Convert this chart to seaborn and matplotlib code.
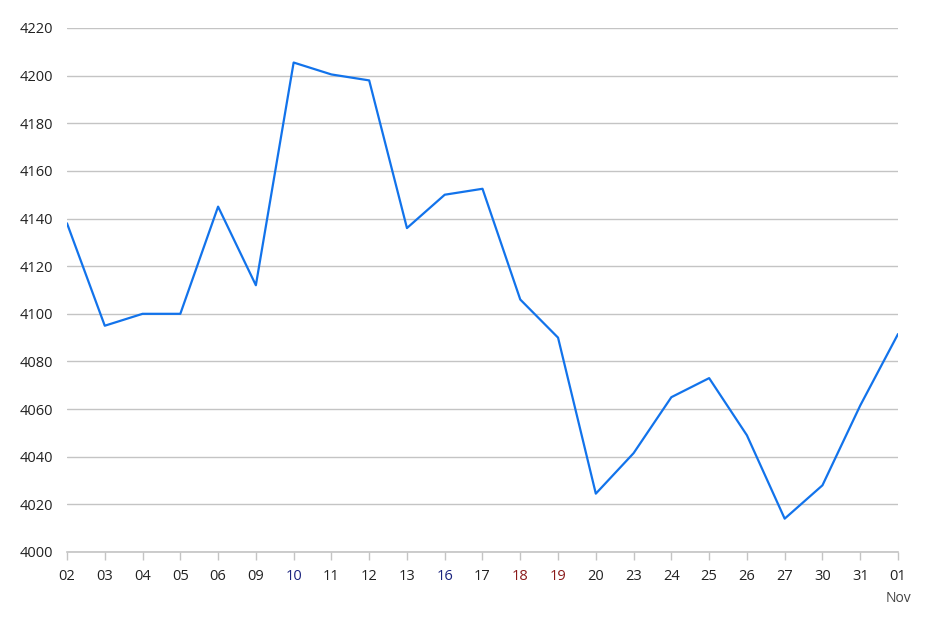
import matplotlib
matplotlib.use("Agg")
import matplotlib.pyplot as plt
import seaborn as sns
import numpy as np

# dates shown on the x axis (business days, ending 01 Nov)
day_labels = ["02", "03", "04", "05", "06", "09", "10", "11", "12", "13", "16",
              "17", "18", "19", "20", "23", "24", "25", "26", "27", "30", "31", "01"]
prices = [4138, 4095, 4100, 4100, 4145, 4112, 4205.5, 4200.5, 4198, 4136, 4150,
          4152.5, 4106, 4090, 4024.5, 4041.5, 4065, 4073, 4049, 4014, 4028, 4061.5, 4091.5]
blue_days = ["10", "16"]
red_days = ["18", "19"]

sns.set_theme(style="white")
plt.rcParams["font.family"] = ["Open Sans", "DejaVu Sans"]

fig = plt.figure(figsize=(9.39, 6.32), dpi=100)
ax = fig.add_axes([67 / 939, 1 - 552 / 632, (898 - 67) / 939, (552 - 28) / 632])

x = np.arange(len(prices))
sns.lineplot(x=x, y=prices, ax=ax, color="#1273eb", linewidth=1.6)

ax.set_xlim(0, len(prices) - 1)
ax.set_ylim(4000, 4220)
ax.set_yticks(np.arange(4000, 4221, 20))
ax.set_xticks(x)
ax.set_xticklabels(day_labels)

ax.grid(axis="y", color="#c4c4c4", linewidth=1)
ax.grid(axis="x", visible=False)
for side in ["left", "right", "top"]:
    ax.spines[side].set_visible(False)
ax.spines["bottom"].set_color("#c4c4c4")
ax.spines["bottom"].set_linewidth(1.2)

ax.tick_params(axis="x", length=6, width=1, color="#c4c4c4", pad=6,
               labelsize=10.5, labelcolor="#222222", bottom=True)
ax.tick_params(axis="y", length=0, pad=10, labelsize=10.5, labelcolor="#222222")

for lbl in ax.get_xticklabels():
    t = lbl.get_text()
    if t in blue_days:
        lbl.set_color("#1a237e")
    elif t in red_days:
        lbl.set_color("#8b1a1a")

ax.text(len(prices) - 1, -0.075, "Nov", transform=ax.get_xaxis_transform(),
        ha="center", va="top", fontsize=10, color="#444444")

fig.savefig("out.png", dpi=100)
